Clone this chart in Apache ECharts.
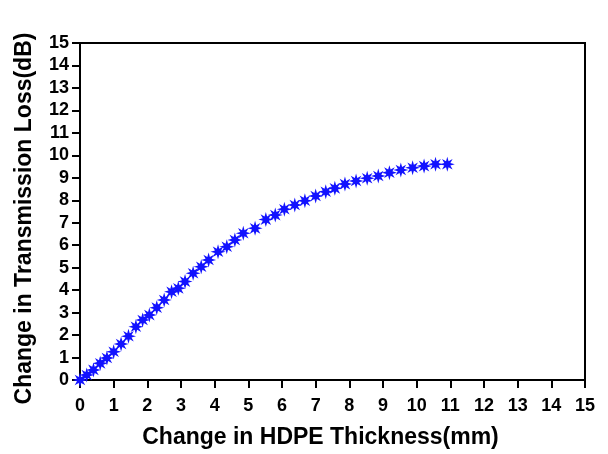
<!DOCTYPE html>
<html><head><meta charset="utf-8">
<script src="https://cdn.jsdelivr.net/npm/echarts@6/dist/echarts.min.js"></script>
<style>html,body{margin:0;padding:0;background:#fff}#c{width:608px;height:454px}</style>
</head><body><div id="c"></div>
<script>
const thickness = [0, 0.2, 0.4, 0.6, 0.8, 1.0, 1.22, 1.44, 1.66, 1.86, 2.06, 2.28, 2.5, 2.72, 2.92, 3.12, 3.36, 3.6, 3.82, 4.1, 4.36, 4.6, 4.85, 5.2, 5.52, 5.8, 6.07, 6.38, 6.68, 7.0, 7.3, 7.57, 7.87, 8.2, 8.53, 8.86, 9.19, 9.53, 9.88, 10.22, 10.56, 10.91];
const loss = [0, 0.22, 0.45, 0.74, 0.98, 1.26, 1.6, 1.95, 2.37, 2.67, 2.89, 3.22, 3.56, 3.93, 4.08, 4.38, 4.75, 5.04, 5.34, 5.71, 5.93, 6.23, 6.53, 6.75, 7.14, 7.34, 7.6, 7.79, 7.98, 8.19, 8.38, 8.53, 8.72, 8.86, 8.98, 9.08, 9.23, 9.35, 9.45, 9.52, 9.6, 9.6];
const xTitle = 'Change in HDPE Thickness(mm)';
const yTitle = 'Change in Transmission Loss(dB)';

// asterisk-like star symbol
function starPath(n, rOut, rIn) {
  let d = '';
  for (let i = 0; i < 2 * n; i++) {
    const r = i % 2 === 0 ? rOut : rIn;
    const a = Math.PI * i / n - Math.PI / 2;
    const x = (50 + r * Math.cos(a)).toFixed(2), y = (50 + r * Math.sin(a)).toFixed(2);
    d += (i === 0 ? 'M' : 'L') + x + ' ' + y + ' ';
  }
  return 'path://' + d + 'Z';
}
const data = thickness.map((t, i) => [t, loss[i]]);
const font = 'Liberation Sans, Arial, sans-serif';
const chart = echarts.init(document.getElementById('c'));
chart.setOption({
  animation: false,
  grid: {left: 80, right: 23, top: 43, bottom: 74, show: true, borderColor: '#000', borderWidth: 2, backgroundColor: 'transparent'},
  xAxis: {
    type: 'value', min: 0, max: 15, interval: 1,
    name: xTitle, nameLocation: 'middle', nameGap: 46,
    nameTextStyle: {fontFamily: font, fontWeight: 'bold', fontSize: 23, color: '#000', padding: [0, 24, 0, 0]},
    axisLine: {show: true, lineStyle: {color: '#000', width: 2}},
    axisTick: {show: true, length: 8, inside: false, lineStyle: {color: '#000', width: 2}},
    axisLabel: {fontFamily: font, fontWeight: 'bold', fontSize: 18, color: '#000', margin: 17},
    splitLine: {show: false}
  },
  yAxis: {
    type: 'value', min: 0, max: 15, interval: 1,
    name: yTitle, nameLocation: 'middle', nameGap: 44, nameRotate: 90,
    nameTextStyle: {fontFamily: font, fontWeight: 'bold', fontSize: 23, color: '#000', padding: [0, 14, 0, 0]},
    axisLine: {show: true, lineStyle: {color: '#000', width: 2}},
    axisTick: {show: true, length: 8, inside: false, lineStyle: {color: '#000', width: 2}},
    axisLabel: {fontFamily: font, fontWeight: 'bold', fontSize: 18, color: '#000', margin: 11},
    splitLine: {show: false}
  },
  series: [{
    type: 'scatter',
    data: data,
    symbol: starPath(8, 50, 22),
    symbolSize: 15,
    itemStyle: {color: '#1212ff', opacity: 1}
  }]
});
</script></body></html>
